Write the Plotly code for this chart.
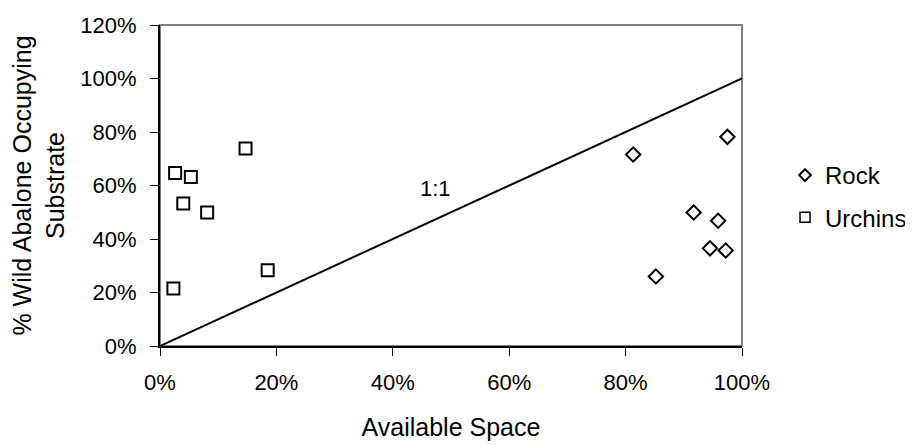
import plotly.graph_objects as go

rock_x = [0.813, 0.975, 0.917, 0.959, 0.945, 0.972, 0.852]
rock_y = [0.716, 0.782, 0.499, 0.468, 0.365, 0.357, 0.260]
urchin_x = [0.026, 0.053, 0.147, 0.040, 0.081, 0.185, 0.023]
urchin_y = [0.647, 0.632, 0.738, 0.533, 0.499, 0.283, 0.215]
line_x = [0.0, 1.0]
line_y = [0.0, 1.0]
x_ticks = [0, 0.2, 0.4, 0.6, 0.8, 1.0]
x_labels = ["0%", "20%", "40%", "60%", "80%", "100%"]
y_ticks = [0, 0.2, 0.4, 0.6, 0.8, 1.0, 1.2]
y_labels = ["0%", "20%", "40%", "60%", "80%", "100%", "120%"]

font = "Liberation Sans, Arial, sans-serif"

fig = go.Figure()
fig.add_trace(go.Scatter(x=line_x, y=line_y, mode="lines",
                         line=dict(color="black", width=2), showlegend=False,
                         hoverinfo="skip"))
fig.add_trace(go.Scatter(x=rock_x, y=rock_y, mode="markers", name="Rock",
                         showlegend=False,
                         marker=dict(symbol="diamond-open", size=11,
                                     color="black", line=dict(width=2, color="black"))))
fig.add_trace(go.Scatter(x=urchin_x, y=urchin_y, mode="markers", name="Urchins",
                         showlegend=False,
                         marker=dict(symbol="square-open", size=12,
                                     color="black", line=dict(width=2, color="black"))))
# legend entries (no data points)
fig.add_trace(go.Scatter(x=[None], y=[None], mode="markers", name="Rock",
                         legendgroup="r",
                         marker=dict(symbol="diamond-open", size=9,
                                     color="black", line=dict(width=2, color="black"))))
fig.add_trace(go.Scatter(x=[None], y=[None], mode="markers", name="Urchins",
                         legendgroup="u",
                         marker=dict(symbol="square-open", size=10,
                                     color="black", line=dict(width=1.5, color="black"))))

fig.add_annotation(x=0.474, y=0.588, text="1:1", showarrow=False,
                   font=dict(size=22, color="black", family=font))

fig.add_shape(type="rect", xref="paper", yref="paper", x0=0, y0=0, x1=1, y1=1,
              line=dict(color="#808080", width=2), layer="below")

# page body has an 8px margin, so the figure is shrunk/shifted to compensate
fig.update_layout(
    width=905, height=437,
    margin=dict(l=152, r=171, t=17, b=99, autoexpand=False),
    paper_bgcolor="white", plot_bgcolor="white",
    font=dict(family=font, size=22, color="black"),
    legend=dict(xref="container", yref="container",
                x=0.8586, y=0.5686, xanchor="left", yanchor="middle",
                font=dict(size=24, family=font, color="black"),
                tracegroupgap=8, itemwidth=30,
                bgcolor="rgba(0,0,0,0)"),
    xaxis=dict(range=[0, 1.0], tickvals=x_ticks, ticktext=x_labels,
               showgrid=False, zeroline=False, showline=True, automargin=False,
               linecolor="black", linewidth=2, ticks="outside",
               ticklen=8, tickwidth=1, tickcolor="black",
               tickfont=dict(size=22), ticklabelstandoff=8,
               title=dict(text="Available Space", font=dict(size=25), standoff=24)),
    yaxis=dict(range=[0, 1.2], tickvals=y_ticks, ticktext=y_labels,
               showgrid=False, zeroline=False, showline=True, automargin=False,
               linecolor="black", linewidth=2, ticks="outside",
               ticklen=8, tickwidth=1, tickcolor="black",
               tickfont=dict(size=22), ticklabelstandoff=9,
               title=dict(text="% Wild Abalone Occupying<br>Substrate",
                          font=dict(size=25), standoff=14)),
)

fig.write_html("out.html")
